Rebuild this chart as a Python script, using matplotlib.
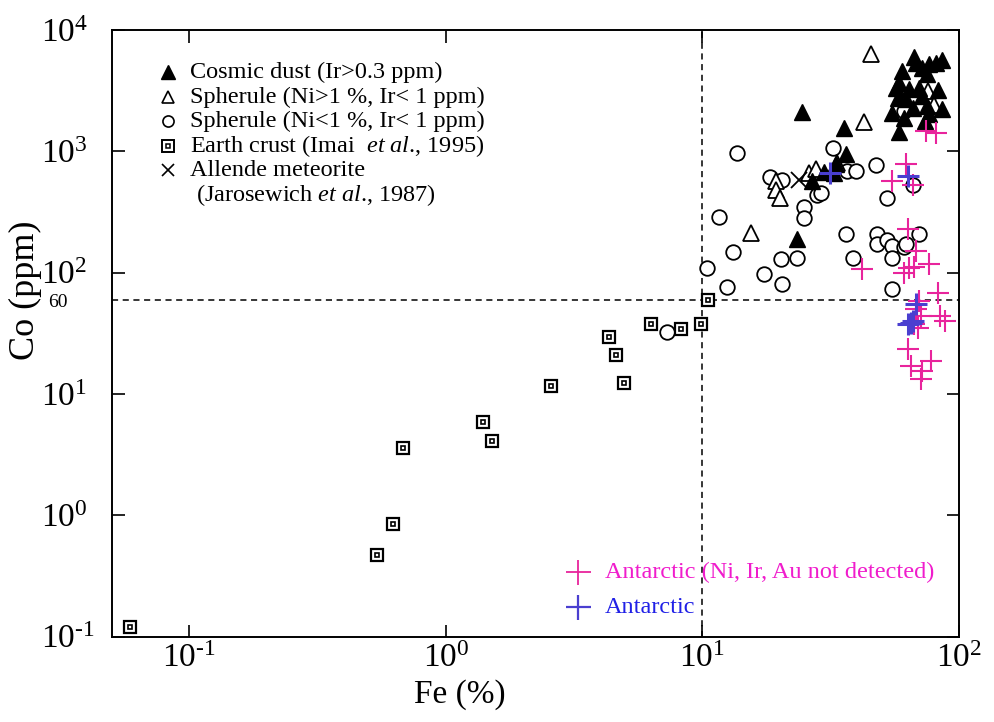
import matplotlib
matplotlib.use("Agg")
import matplotlib.pyplot as plt
from matplotlib.transforms import offset_copy

plt.rcParams['font.family'] = ['Liberation Serif', 'DejaVu Serif']
plt.rcParams['mathtext.fontset'] = 'custom'
plt.rcParams['mathtext.rm'] = 'Liberation Serif'
plt.rcParams['mathtext.it'] = 'Liberation Serif:italic'

# ---------------- data (Fe %, Co ppm) ----------------
cosmic_fe = [24.5, 35.5, 36.4, 33.3, 29.9, 26.8, 32.7, 23.4,
             66.5, 68, 72, 76.7, 81, 86, 60, 58.6, 56.6, 58, 62.4, 66, 70, 72,
             82.5, 85.5, 55, 60.8, 73.4, 76.7, 58.6, 75, 64, 75]
cosmic_co = [2110, 1560, 950, 790, 676, 570, 664, 190,
             6000, 5360, 4870, 5250, 5360, 5670, 4600, 3660, 3330, 2750, 2700, 2280, 3330, 2860,
             3200, 2240, 2070, 1885, 1780, 2030, 1445, 4350, 3270, 2370]

sph1_fe = [45.6, 42.8, 75.4, 79.6, 15.5, 19.3, 19.4, 20.0, 26.1, 27.6, 33.6]
sph1_co = [6350, 1750, 3150, 2410, 212, 570, 480, 413, 664, 716, 800]

sph2_fe = [13.7, 18.4, 20.5, 32.4, 36.7, 39.8, 28.0, 29.0, 24.8, 24.8, 11.6, 36.4,
           47.3, 52.6, 65.9, 70, 47.7, 48, 52.6, 54.6, 61.3, 62.4, 55, 38.5, 23.3,
           20.3, 13.1, 10.4, 17.4, 20.5, 12.5, 54.6, 61, 7.3]
sph2_co = [970, 615, 580, 1070, 690, 690, 440, 450, 348, 282, 288, 208,
           770, 413, 530, 208, 208, 172, 186, 166, 163, 172, 132, 132, 132,
           130, 148, 109, 97, 81, 76, 73, 2150, 32.4]

crust_fe = [0.059, 0.54, 0.62, 0.68, 1.39, 1.51, 2.58, 4.95, 4.33, 4.6, 6.3, 8.25, 9.9, 10.5]
crust_co = [0.12, 0.47, 0.84, 3.6, 5.9, 4.1, 11.7, 12.3, 29.5, 21, 38, 34, 38, 60]

allende_fe = [23.7]
allende_co = [580]

ant_nd_fe = [62.4, 55, 66, 74.7, 81.7, 63.5, 67.7, 64, 67, 76.7, 61.3, 41.7, 82.5, 70,
             68, 71.4, 84, 88, 67, 69, 63.5, 65, 78, 72, 71.4]
ant_nd_co = [790, 570, 530, 1470, 1420, 229, 151, 109, 111, 118, 99, 107, 68, 58,
             50, 44, 44, 40, 37.8, 35, 23.5, 17, 18.7, 15.5, 13.3]

ant_fe = [31.3, 63, 68, 65, 63, 66]
ant_co = [664, 627, 55, 38.5, 37.7, 40]

x_ticks = [0.1, 1, 10, 100]
x_ticklabels = [r'10$^{\text{-1}}$', r'10$^{\text{0}}$', r'10$^{\text{1}}$', r'10$^{\text{2}}$']
y_ticks = [0.1, 1, 10, 100, 1000, 10000]
y_ticklabels = [r'10$^{\text{-1}}$', r'10$^{\text{0}}$', r'10$^{\text{1}}$',
                r'10$^{\text{2}}$', r'10$^{\text{3}}$', r'10$^{\text{4}}$']

legend_labels = ["Cosmic dust (Ir>0.3 ppm)",
                 "Spherule (Ni>1 %, Ir< 1 ppm)",
                 "Spherule (Ni<1 %, Ir< 1 ppm)",
                 r"Earth crust (Imai  $\it{et\ al}$., 1995)",
                 "Allende meteorite",
                 r" (Jarosewich $\it{et\ al}$., 1987)"]
ant_labels = ["Antarctic (Ni, Ir, Au not detected)", "Antarctic"]

MAG = '#e8249c'
MAG_T = '#f01ccc'
BLU = '#4a3fd0'
BLU_T = '#2020e6'

# ---------------- figure ----------------
fig = plt.figure(figsize=(9.94, 7.22), dpi=100)
ax = fig.add_axes([112/994, 1-636.5/722, 847/994, 606.5/722])
ax.set_xscale('log')
ax.set_yscale('log')
ax.set_xlim(0.05, 100)
ax.set_ylim(0.1, 10000)

ax.axvline(10, color='k', lw=1.1, ls=(0, (4, 3)), zorder=1)
ax.axhline(60, color='k', lw=1.1, ls=(0, (4, 3)), zorder=1)

def crust(axh, x, y, **kw):
    axh.plot(x, y, ls='none', marker='s', ms=9, mfc='white', mec='k', mew=1.6, zorder=3, **kw)
    axh.plot(x, y, ls='none', marker='s', ms=3.5, mfc='white', mec='k', mew=1.2, zorder=3.1, **kw)

crust(ax, crust_fe, crust_co)
ax.plot(sph2_fe, sph2_co, ls='none', marker='o', ms=10.5, mfc='white', mec='k', mew=1.3, zorder=4)
ax.plot(sph1_fe, sph1_co, ls='none', marker='^', ms=11.5, mfc='white', mec='k', mew=1.3, zorder=5)
ax.plot(cosmic_fe, cosmic_co, ls='none', marker='^', ms=12, mfc='k', mec='k', mew=1, zorder=6)
ax.plot(allende_fe, allende_co, ls='none', marker='x', ms=11, mec='k', mew=1.3, zorder=7)
ax.plot(ant_nd_fe, ant_nd_co, ls='none', marker='+', ms=16, mec=MAG, mew=1.5, zorder=8)
ax.plot(ant_fe, ant_co, ls='none', marker='+', ms=16, mec=BLU, mew=2.2, zorder=9)

# axes styling
for s in ax.spines.values():
    s.set_linewidth(1.4)
ax.tick_params(which='major', direction='in', length=9, width=1.2, top=True, right=True,
               labelsize=24)
ax.tick_params(axis='x', pad=5)
ax.tick_params(axis='y', pad=51)
ax.tick_params(which='minor', length=0)
ax.set_xticks(x_ticks)
ax.set_xticklabels(x_ticklabels)
ax.set_yticks(y_ticks)
ax.set_yticklabels(y_ticklabels, ha='left')
ax.set_xlabel('Fe (%)', fontsize=24, va='top')
ax.set_ylabel('Co (ppm)', fontsize=26)
ax.xaxis.set_label_coords((460-112)/847, -0.07)
ax.yaxis.set_label_coords(-0.0826, (636.5-290)/606.5)

ax.text(-0.0756, 60, '60',
        transform=offset_copy(ax.get_yaxis_transform(), fig=fig, y=-3, units='dots'),
        ha='left', va='center', fontsize=14)

# upper-left legend
mx, tx = 0.066, 0.092
rows = [0.9307, 0.8895, 0.8499, 0.8087, 0.7691, 0.7279]
tr = ax.transAxes
ax.plot(mx, rows[0], transform=tr, marker='^', ms=10, mfc='k', mec='k', clip_on=False)
ax.plot(mx, rows[1], transform=tr, marker='^', ms=9, mfc='white', mec='k', mew=1.2, clip_on=False)
ax.plot(mx, rows[2], transform=tr, marker='o', ms=8, mfc='white', mec='k', mew=1.2, clip_on=False)
ax.plot(mx, rows[3], transform=tr, marker='s', ms=8, mfc='white', mec='k', mew=1.4, clip_on=False)
ax.plot(mx, rows[3], transform=tr, marker='s', ms=3, mfc='white', mec='k', mew=1.1, clip_on=False)
ax.plot(mx, rows[4], transform=tr, marker='x', ms=9, mec='k', mew=1.2, clip_on=False)
for lab, yy in zip(legend_labels, rows):
    ax.text(tx, yy, lab, transform=tr, fontsize=17.5, va='center', ha='left')

# lower-right legend
ax.plot(0.550, 0.1063, transform=tr, marker='+', ms=18, mec=MAG, mew=1.3)
ax.text(0.582, 0.1063, ant_labels[0], transform=tr, fontsize=17.5, color=MAG_T, va='center')
ax.plot(0.550, 0.0486, transform=tr, marker='+', ms=18, mec=BLU, mew=1.6)
ax.text(0.582, 0.0486, ant_labels[1], transform=tr, fontsize=17.5, color=BLU_T, va='center')

fig.savefig('out.png', dpi=100)
